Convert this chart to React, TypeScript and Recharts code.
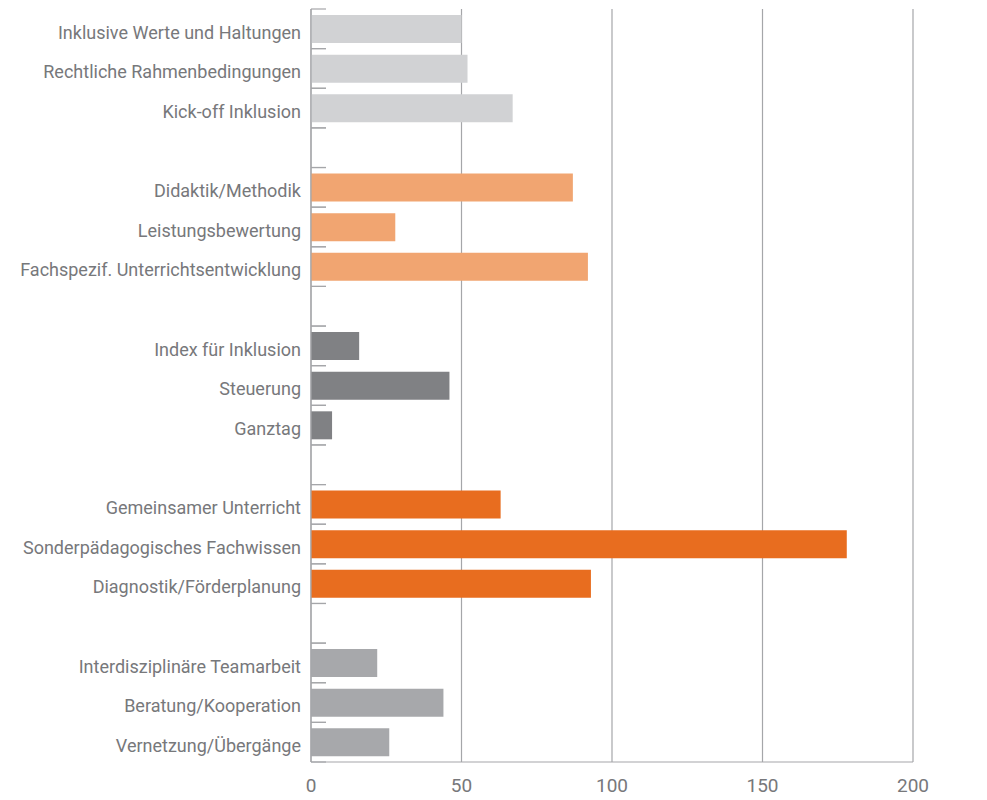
import { BarChart, Bar, XAxis, YAxis, CartesianGrid, Cell } from 'recharts';

// categories top to bottom; empty strings are the gaps between groups
const categories = [
  'Inklusive Werte und Haltungen',
  'Rechtliche Rahmenbedingungen',
  'Kick-off Inklusion',
  '',
  'Didaktik/Methodik',
  'Leistungsbewertung',
  'Fachspezif. Unterrichtsentwicklung',
  '',
  'Index für Inklusion',
  'Steuerung',
  'Ganztag',
  '',
  'Gemeinsamer Unterricht',
  'Sonderpädagogisches Fachwissen',
  'Diagnostik/Förderplanung',
  '',
  'Interdisziplinäre Teamarbeit',
  'Beratung/Kooperation',
  'Vernetzung/Übergänge',
];

const values = [50, 52, 67, null, 87, 28, 92, null, 16, 46, 7, null, 63, 178, 93, null, 22, 44, 26];

const groupOf = [0, 0, 0, -1, 1, 1, 1, -1, 2, 2, 2, -1, 3, 3, 3, -1, 4, 4, 4];
const groupColors = ['#d1d2d4', '#f1a571', '#808184', '#e86d1f', '#a7a8ab'];

const xTicks = [0, 50, 100, 150, 200];

const data = categories.map((name, i) => ({
  id: `c${i}`,
  name,
  value: values[i],
  group: groupOf[i],
}));

const W = 987;
const H = 800;
const AXIS_W = 311;
const TOP = 9;
const BOTTOM_H = 38;
const BAND = (H - TOP - BOTTOM_H) / categories.length;
const TEXT = '#77787b';
const LINE = '#a5a6a9';
const FONT = 'Roboto, sans-serif';

const CategoryTick = (props: any) => {
  const { y, payload, index } = props;
  const label = data[index]?.name ?? '';
  return (
    <g>
      <line x1={AXIS_W} x2={AXIS_W + 15} y1={y - BAND / 2} y2={y - BAND / 2} stroke={LINE} strokeWidth={1.2} />
      <line x1={AXIS_W} x2={AXIS_W + 15} y1={y + BAND / 2} y2={y + BAND / 2} stroke={LINE} strokeWidth={1.2} />
      <text
        x={AXIS_W - 10}
        y={y + 5}
        textAnchor="end"
        dominantBaseline="middle"
        fill={TEXT}
        fontSize={18}
        fontFamily={FONT}
        data-key={payload?.value}
      >
        {label}
      </text>
    </g>
  );
};

export default function App() {
  return (
    <div style={{ position: 'absolute', left: 0, top: 0, background: '#fff' }}>
      <BarChart
        width={W}
        height={H}
        data={data}
        layout="vertical"
        margin={{ top: TOP, right: 74, bottom: 0, left: 0 }}
        barCategoryGap={0}
      >
        <CartesianGrid horizontal={false} stroke={LINE} strokeWidth={1.2} />
        <XAxis
          type="number"
          domain={[0, 200]}
          ticks={xTicks}
          tickLine={false}
          axisLine={{ stroke: LINE, strokeWidth: 1.2 }}
          height={BOTTOM_H}
          tickMargin={11}
          tick={{ fill: TEXT, fontSize: 19, fontFamily: FONT }}
        />
        <YAxis
          type="category"
          dataKey="id"
          width={AXIS_W}
          tickLine={false}
          axisLine={{ stroke: LINE, strokeWidth: 1.2 }}
          interval={0}
          tick={<CategoryTick />}
        />
        <Bar dataKey="value" barSize={28} isAnimationActive={false}>
          {data.map((d) => (
            <Cell key={d.id} fill={d.group >= 0 ? groupColors[d.group] : 'none'} />
          ))}
        </Bar>
      </BarChart>
    </div>
  );
}
